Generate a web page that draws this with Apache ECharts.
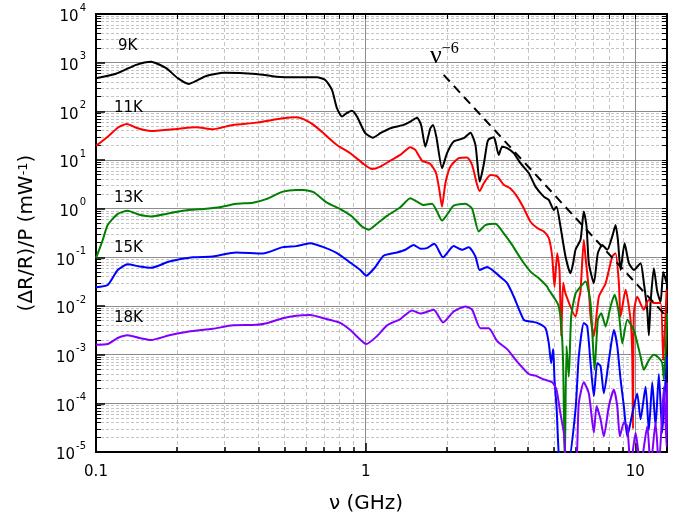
<!DOCTYPE html>
<html>
<head>
<meta charset="utf-8">
<script src="https://cdn.jsdelivr.net/npm/echarts@6/dist/echarts.min.js"></script>
<style>
  html, body { margin: 0; padding: 0; background: #fff; }
  #chart { width: 680px; height: 522px; }
</style>
</head>
<body>
<div id="chart"></div>
<script>
// frequency (GHz), response (mW^-1)
const curve9K = [
  [0.1, 480], [0.1186, 590], [0.1408, 900], [0.160, 1050], [0.182, 770], [0.201, 480],
  [0.2208, 366], [0.256, 533], [0.2986, 623], [0.3926, 586], [0.4658, 516], [0.5526, 500],
  [0.6595, 500], [0.708, 442], [0.7498, 275], [0.7824, 116], [0.8167, 78], [0.8472, 91],
  [0.8894, 103], [0.9283, 78], [0.9966, 35.5], [1.064, 28.8], [1.133, 35.5], [1.234, 45],
  [1.382, 52.6], [1.464, 61.5], [1.550, 74], [1.605, 52.6], [1.664, 18.8], [1.737, 45],
  [1.777, 52.6], [1.828, 30], [1.919, 6.8], [2.003, 13.8], [2.120, 23.9], [2.309, 28],
  [2.445, 36.5], [2.552, 20.4], [2.647, 3.6], [2.739, 8], [2.82, 22], [2.859, 26.7],
  [2.984, 29.4], [3.028, 23.9], [3.114, 12.7], [3.206, 18.8], [3.346, 17.5], [3.540, 13.8],
  [3.749, 8.6], [4.024, 5.4], [4.262, 2.84], [4.575, 1.77], [4.775, 1.52], [4.983, 0.94],
  [5.099, 1.1], [5.276, 0.43], [5.507, 0.104], [5.746, 0.047], [5.880, 0.076], [5.998, 0.143],
  [6.26, 0.23], [6.439, 0.87], [6.591, 0.43], [6.721, 0.076], [7.015, 0.0295], [7.258, 0.122],
  [7.536, 0.18], [7.866, 0.143], [8.209, 0.27], [8.444, 0.46], [8.612, 0.23], [8.813, 0.055],
  [9.12, 0.195], [9.461, 0.076], [9.872, 0.055], [10.45, 0.076], [10.75, 0.03], [11.07, 0.008],
  [11.22, 0.0025], [11.39, 0.012], [11.71, 0.06], [12.05, 0.02], [12.4, 0.012], [12.69, 0.05],
  [13.05, 0.03]
];
const curve11K = [
  [0.1, 19.5], [0.1105, 30], [0.1204, 46], [0.130, 55], [0.1428, 45], [0.160, 39.6],
  [0.1927, 42.9], [0.235, 47], [0.271, 42.9], [0.3216, 52.6], [0.3926, 58.6], [0.4932, 72],
  [0.5526, 75.7], [0.588, 69], [0.6405, 52.6], [0.6976, 35.5], [0.7824, 20.4], [0.8767, 13.8],
  [0.982, 8.3], [1.055, 6.5], [1.133, 7.3], [1.234, 9.7], [1.344, 12.7], [1.464, 18.3],
  [1.528, 16.1], [1.618, 9.7], [1.737, 8.3], [1.823, 5.4], [1.876, 2.4], [1.919, 1.1],
  [1.974, 3.3], [2.061, 7.3], [2.213, 10.9], [2.377, 11.3], [2.481, 7.9], [2.589, 3.1],
  [2.647, 2.3], [2.739, 3.3], [2.901, 4.9], [3.072, 4.6], [3.251, 3.1], [3.441, 2.6],
  [3.644, 1.77], [3.856, 1.02], [4.083, 0.54], [4.325, 0.40], [4.575, 0.34], [4.775, 0.25],
  [4.915, 0.104], [5.013, 0.025], [5.13, 0.122], [5.232, 0.055], [5.308, 0.0024], [5.399, 0.03],
  [5.507, 0.018], [5.998, 0.0061], [6.169, 0.0134], [6.26, 0.02], [6.439, 0.23], [6.534, 0.1],
  [6.721, 0.0215], [6.82, 0.0061], [7.015, 0.0024], [7.32, 0.0155], [7.752, 0.029], [8.209, 0.104],
  [8.444, 0.122], [8.686, 0.03], [8.813, 0.0061], [9.197, 0.0215], [9.598, 0.0052], [9.739, 0.0009],
  [9.80, 0.00003], [9.872, 0.0071], [10.16, 0.0155], [10.75, 0.0084], [11.22, 0.0134], [11.71, 0.0115],
  [12.4, 0.0115], [12.69, 0.00077], [13.05, 0.0215]
];
const curve13K = [
  [0.1, 0.096], [0.106, 0.23], [0.1105, 0.46], [0.1204, 0.78], [0.1311, 0.91], [0.1448, 0.75],
  [0.160, 0.69], [0.182, 0.78], [0.21, 0.91], [0.256, 1.0], [0.287, 1.07], [0.331, 1.26],
  [0.3817, 1.33], [0.4276, 1.57], [0.4932, 2.24], [0.5526, 2.43], [0.588, 2.43], [0.6405, 2.18],
  [0.7183, 1.33], [0.805, 0.98], [0.8894, 0.69], [0.9689, 0.43], [1.025, 0.37], [1.101, 0.49],
  [1.2, 0.71], [1.344, 1.07], [1.464, 1.64], [1.55, 1.39], [1.64, 1.19], [1.762, 1.26],
  [1.839, 0.87], [1.919, 0.57], [2.003, 0.75], [2.12, 1.15], [2.343, 1.26], [2.481, 1.0],
  [2.625, 0.34], [2.779, 0.46], [3.028, 0.49], [3.251, 0.31], [3.491, 0.18], [3.749, 0.096],
  [4.083, 0.051], [4.385, 0.037], [4.71, 0.025], [4.775, 0.0215], [5.056, 0.0134], [5.2, 0.0098],
  [5.308, 0.0045], [5.399, 0.00058], [5.474, 0.000005], [5.554, 0.0015], [5.664, 0.00035], [5.781, 0.0061],
  [5.998, 0.018], [6.26, 0.025], [6.534, 0.032], [6.82, 0.0115], [7.058, 0.00049], [7.258, 0.0052],
  [7.472, 0.0071], [7.752, 0.0038], [8.091, 0.0098], [8.372, 0.017], [8.686, 0.0071], [8.942, 0.0017],
  [9.332, 0.0052], [9.872, 0.0032], [10.45, 0.00092], [10.75, 0.00049], [11.22, 0.00077], [11.71, 0.001],
  [12.22, 0.00086], [12.58, 0.00067], [12.76, 0.00031], [13.13, 0.0071]
];
const curve15K = [
  [0.1, 0.0244], [0.1105, 0.027], [0.1204, 0.055], [0.1311, 0.072], [0.1448, 0.065], [0.160, 0.061],
  [0.187, 0.082], [0.2285, 0.1], [0.271, 0.104], [0.331, 0.126], [0.4157, 0.12], [0.4932, 0.162],
  [0.5526, 0.17], [0.6226, 0.195], [0.6976, 0.162], [0.7824, 0.122], [0.8767, 0.078], [0.9549, 0.055],
  [1.005, 0.042], [1.085, 0.063], [1.165, 0.108], [1.307, 0.126], [1.403, 0.143], [1.506, 0.18],
  [1.595, 0.15], [1.688, 0.155], [1.797, 0.19], [1.936, 0.1], [2.12, 0.17], [2.278, 0.143],
  [2.41, 0.162], [2.552, 0.104], [2.647, 0.055], [2.82, 0.063], [3.15, 0.04], [3.346, 0.0295],
  [3.54, 0.0157], [3.856, 0.0052], [4.083, 0.0048], [4.325, 0.0045], [4.642, 0.0035], [4.775, 0.0017],
  [4.873, 0.00067], [4.957, 0.0013], [5.013, 0.00031], [5.099, 0.000087], [5.276, 0.000005], [5.6, 0.000005],
  [5.998, 0.000074], [6.169, 0.00092], [6.439, 0.0045], [6.63, 0.0038], [6.82, 0.00067], [7.015, 0.00014],
  [7.221, 0.00067], [7.427, 0.00058], [7.64, 0.00016], [7.975, 0.00077], [8.322, 0.0032], [8.567, 0.0015],
  [8.813, 0.00031], [9.065, 0.000087], [9.332, 0.000021], [9.739, 0.000061], [10.16, 0.00016], [10.45, 0.000047],
  [10.91, 0.00022], [11.22, 0.000028], [11.55, 0.00027], [11.88, 0.000034], [12.22, 0.0004], [12.58, 0.000025],
  [12.94, 0.00031], [13.13, 0.00092]
];
const curve18K = [
  [0.1, 0.0016], [0.1105, 0.00165], [0.1204, 0.0022], [0.1311, 0.0025], [0.1448, 0.0022], [0.160, 0.002],
  [0.187, 0.0025], [0.2208, 0.003], [0.271, 0.0034], [0.3216, 0.004], [0.3926, 0.0041], [0.4397, 0.0046],
  [0.4932, 0.0056], [0.5526, 0.0063], [0.6226, 0.0065], [0.6976, 0.0056], [0.805, 0.0045], [0.8767, 0.0032],
  [0.941, 0.0022], [1.005, 0.00165], [1.101, 0.0024], [1.2, 0.004], [1.344, 0.0054], [1.485, 0.0081],
  [1.595, 0.007], [1.786, 0.0084], [1.936, 0.0046], [2.12, 0.0077], [2.343, 0.0098], [2.481, 0.0084],
  [2.663, 0.0035], [2.859, 0.0035], [3.072, 0.0019], [3.346, 0.0013], [3.644, 0.00072], [4.024, 0.0004],
  [4.262, 0.00037], [4.575, 0.00031], [4.915, 0.00027], [5.099, 0.00019], [5.276, 0.000061], [5.428, 0.000025],
  [5.6, 0.000005], [6.0, 0.000005], [6.169, 0.0001], [6.439, 0.00027], [6.721, 0.00016], [7.015, 0.000025],
  [7.178, 0.000087], [7.427, 0.000047], [7.64, 0.000021], [7.975, 0.000087], [8.322, 0.00019], [8.567, 0.000087],
  [8.76, 0.000021], [9.065, 0.00004], [9.332, 0.000034], [9.598, 0.000005], [10.02, 0.000025], [10.45, 0.000005],
  [11.07, 0.000034], [11.39, 0.000005], [11.88, 0.00004], [12.22, 0.000005], [12.76, 0.00022], [13.05, 0.000013],
  [13.13, 0.00027]
];
// nu^-6 guide line end points
const guideLine = [[1.946, 560], [12.94, 0.0064]];

const curveNames = ['9K', '11K', '13K', '15K', '18K'];
const curveColors = ['#000000', '#ff0000', '#008000', '#0000ff', '#8000ff'];
const curves = [curve9K, curve11K, curve13K, curve15K, curve18K];

const xMin = 0.1, xMax = 13.1;
const yMin = 1e-5, yMax = 1e4;
const xDecades = [0.1, 1, 10];
const yDecades = [1e-5, 1e-4, 1e-3, 1e-2, 1e-1, 1, 10, 100, 1000];
const minorSteps = [2, 3, 4, 5, 6, 7, 8, 9];

const xMinor = [];
xDecades.forEach(d => minorSteps.forEach(k => {
  const v = +(k * d).toPrecision(3);
  if (v < xMax) xMinor.push(v);
}));
const yMinor = [];
yDecades.forEach(d => minorSteps.forEach(k => yMinor.push(+(k * d).toPrecision(3))));

const FONT = 'DejaVu Sans';
const chart = echarts.init(document.getElementById('chart'), null, { renderer: 'canvas' });

const series = curves.map((data, i) => ({
  name: curveNames[i],
  type: 'line',
  data,
  xAxisIndex: 0,
  yAxisIndex: 0,
  symbol: 'none',
  smooth: 0.2,
  clip: true,
  lineStyle: { color: curveColors[i], width: 2, join: 'round' },
  z: 3 + i
}));
series.push({
  name: 'nu-6',
  type: 'line',
  data: guideLine,
  xAxisIndex: 0,
  yAxisIndex: 0,
  symbol: 'none',
  lineStyle: { color: '#000', width: 2, type: [9, 6] },
  z: 10
});

const labelY = [48, 110, 200, 250, 320];
const labelX = [118, 114, 114, 114, 114];

chart.setOption({
  animation: false,
  backgroundColor: '#fff',
  grid: { left: 96, right: 13, top: 14, bottom: 70, containLabel: false, outerBoundsMode: 'none' },
  xAxis: [
    {
      type: 'log', logBase: 10, min: xMin, max: xMax, position: 'bottom',
      axisLine: { show: true, lineStyle: { color: '#000', width: 2 } },
      axisTick: { show: true, inside: true, length: 9, lineStyle: { color: '#000', width: 1.5 } },
      axisLabel: {
        show: true, margin: 13, color: '#000', fontSize: 15, fontFamily: FONT, showMaxLabel: false,
        formatter: v => (v < 1 ? v.toFixed(1) : String(Math.round(v)))
      },
      splitLine: { show: true, lineStyle: { color: '#8c8c8c', width: 1 } },
      name: 'ν (GHz)', nameLocation: 'middle', nameGap: 42,
      nameTextStyle: { color: '#000', fontSize: 20, fontFamily: FONT, padding: [0, 31, 0, 0] }
    },
    {
      type: 'log', logBase: 10, min: xMin, max: xMax, position: 'bottom',
      axisLine: { show: false },
      axisTick: { show: true, inside: true, length: 5, customValues: xMinor, lineStyle: { color: '#000', width: 1.5 } },
      axisLabel: { show: false },
      splitLine: { show: true, lineStyle: { color: '#c4c4c4', width: 1, type: [4, 3] } }
    },
    {
      type: 'log', logBase: 10, min: xMin, max: xMax, position: 'top',
      axisLine: { show: true, lineStyle: { color: '#000', width: 2 } },
      axisTick: { show: true, inside: true, length: 5, customValues: xMinor.concat(xDecades), lineStyle: { color: '#000', width: 1 } },
      axisLabel: { show: false },
      splitLine: { show: false }
    }
  ],
  yAxis: [
    {
      type: 'log', logBase: 10, min: yMin, max: yMax, position: 'left',
      axisLine: { show: true, lineStyle: { color: '#000', width: 2 } },
      axisTick: { show: true, inside: true, length: 9, lineStyle: { color: '#000', width: 1.5 } },
      axisLabel: {
        show: true, margin: 10, color: '#000', fontFamily: FONT,
        formatter: v => '{b|10}{s|' + Math.round(Math.log10(v)) + '}',
        rich: {
          b: { fontSize: 15, fontFamily: FONT, color: '#000', lineHeight: 22, verticalAlign: 'bottom' },
          s: { fontSize: 10, fontFamily: FONT, color: '#000', lineHeight: 22, verticalAlign: 'top', padding: [0, 0, 0, 1] }
        }
      },
      splitLine: { show: true, lineStyle: { color: '#8c8c8c', width: 1 } },
      name: '(ΔR/R)/P (mW{s|-1})', nameLocation: 'middle', nameRotate: 90, nameGap: 59,
      nameTextStyle: {
        color: '#000', fontSize: 20, fontFamily: FONT,
        rich: { s: { fontSize: 13, fontFamily: FONT, color: '#000', verticalAlign: 'top', lineHeight: 14 } }
      }
    },
    {
      type: 'log', logBase: 10, min: yMin, max: yMax, position: 'left',
      axisLine: { show: false },
      axisTick: { show: true, inside: true, length: 5, customValues: yMinor, lineStyle: { color: '#000', width: 1 } },
      axisLabel: { show: false },
      splitLine: { show: true, lineStyle: { color: '#c4c4c4', width: 1, type: [3, 2] } }
    },
    {
      type: 'log', logBase: 10, min: yMin, max: yMax, position: 'right',
      axisLine: { show: true, lineStyle: { color: '#000', width: 2 } },
      axisTick: { show: true, inside: true, length: 5, customValues: yMinor.concat(yDecades), lineStyle: { color: '#000', width: 1 } },
      axisLabel: { show: false },
      splitLine: { show: false }
    }
  ],
  graphic: curveNames.map((n, i) => ({
    type: 'text', left: labelX[i], top: labelY[i] - 9, z: 20,
    style: { text: n, fill: '#000', font: '15px "DejaVu Sans"' }
  })).concat([{
    type: 'text', left: 430, top: 41, z: 20,
    style: {
      text: '{n|ν}{s|−6}',
      rich: {
        n: { fontFamily: 'Liberation Serif', fontSize: 26, fill: '#000', lineHeight: 28, verticalAlign: 'bottom' },
        s: { fontFamily: 'Liberation Serif', fontSize: 16, fill: '#000', lineHeight: 28, verticalAlign: 'top' }
      }
    }
  }]),
  series
});
</script>
</body>
</html>
